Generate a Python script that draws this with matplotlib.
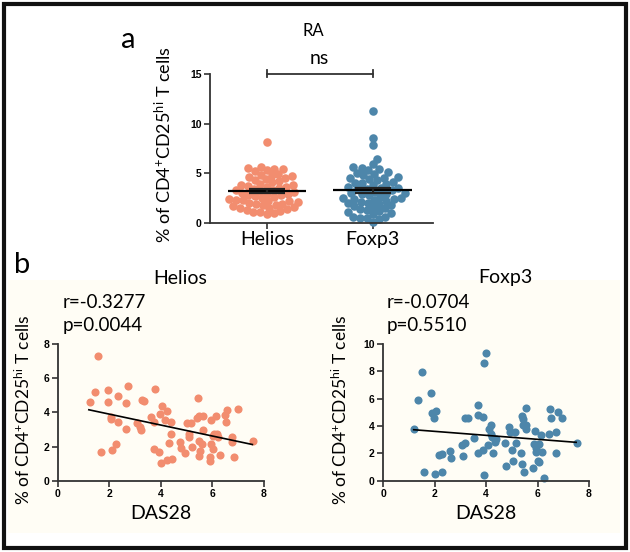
import numpy as np
import matplotlib
matplotlib.use("Agg")
import matplotlib.pyplot as plt
from matplotlib.patches import Rectangle

# ------------------------------------------------------------------ #
# Data
# ------------------------------------------------------------------ #
GROUPS = ["Helios", "Foxp3"]

helios_ra = [
    8.2,
    5.5, 5.4, 5.6, 5.3, 5.45, 5.2,
    4.9, 4.8, 4.7, 4.6, 4.85,
    4.4, 4.3, 4.2, 4.1, 4.5,
    3.9, 3.8, 3.7, 3.6, 3.85, 3.65,
    3.4, 3.3, 3.2, 3.1, 3.35, 3.0, 3.5,
    2.9, 2.8, 2.7, 2.6, 2.85, 2.5, 2.95,
    2.4, 2.3, 2.2, 2.1, 2.35, 2.0, 2.25,
    1.9, 1.8, 1.7, 1.6, 1.85, 1.95,
    1.5, 1.4, 1.3, 1.2, 1.55,
    1.1, 1.0, 0.9, 1.15,
]

foxp3_ra = [
    11.3, 8.6, 7.9, 6.4,
    5.9, 5.6, 5.5, 5.4, 5.3,
    5.1, 5.0, 4.9, 4.8,
    4.6, 4.5, 4.4, 4.3, 4.55,
    4.1, 4.0, 3.9, 3.8, 4.05,
    3.6, 3.5, 3.4, 3.3, 3.55, 3.45,
    3.1, 3.0, 2.9, 2.8, 3.05, 2.95,
    2.6, 2.5, 2.4, 2.3, 2.55, 2.2, 2.45,
    2.1, 2.0, 1.9, 1.8, 2.05,
    1.6, 1.5, 1.4, 1.3, 1.2, 1.7,
    1.1, 1.0, 0.9,
    0.6, 0.5, 0.45, 0.65, 0.55,
    0.1,
]

helios_das28 = [1.57, 1.42, 1.26, 1.93, 1.93, 1.66, 2.05, 2.07, 2.11, 2.24,
                2.34, 2.34, 2.64, 2.72, 2.63, 3.08, 3.17, 3.24, 3.26, 3.33,
                3.61, 3.75, 3.73, 3.73, 3.91, 3.99, 3.95, 4.03, 4.23, 4.17,
                4.39, 4.40, 4.31, 4.25, 4.43, 4.74, 4.79, 4.95, 5.00, 5.18,
                5.09, 5.10, 5.22, 5.44, 5.40, 5.46, 5.62, 5.62, 5.46, 5.53,
                5.49, 5.60, 5.94, 6.14, 5.95, 6.03, 5.89, 5.89, 6.07, 6.17,
                6.03, 6.21, 6.30, 6.50, 6.58, 6.54, 6.74, 6.74, 6.85, 6.98,
                7.59]
helios_pct = [7.28, 5.20, 4.58, 5.30, 4.60, 1.70, 3.70, 3.62, 1.80, 2.13,
              4.93, 3.46, 4.52, 5.56, 3.03, 3.39, 3.13, 2.99, 4.70, 4.64,
              3.74, 5.36, 3.42, 1.84, 1.66, 1.02, 3.93, 4.36, 4.09, 3.56,
              3.44, 2.76, 2.21, 1.19, 1.25, 2.25, 1.92, 1.64, 3.39, 3.39,
              2.72, 2.56, 2.00, 4.81, 3.66, 3.78, 3.78, 2.94, 2.31, 1.72,
              1.47, 2.17, 3.54, 3.76, 2.17, 1.88, 1.41, 1.15, 2.76, 2.76,
              2.60, 2.56, 1.51, 3.84, 4.15, 3.46, 2.56, 2.25, 1.39, 4.17,
              2.35]
helios_fit_x = [1.2, 7.55]
helios_fit_y = [4.15, 2.12]

foxp3_das28 = [1.19, 1.37, 1.52, 1.60, 1.88, 1.89, 2.07, 1.98, 2.02, 2.18,
               2.28, 2.28, 2.59, 2.65, 3.06, 3.18, 3.11, 3.20, 3.29, 3.55,
               3.70, 3.68, 3.90, 3.92, 3.98, 3.70, 3.88, 3.93, 4.10, 4.20,
               4.18, 4.25, 4.09, 4.27, 4.35, 4.38, 4.79, 4.72, 4.89, 4.93,
               5.14, 5.02, 5.05, 5.17, 5.34, 5.38, 5.49, 5.38, 5.45, 5.56,
               5.42, 5.55, 5.56, 5.84, 5.90, 5.87, 5.94, 5.93, 6.06, 6.03,
               6.06, 6.16, 6.14, 6.26, 6.46, 6.49, 6.54, 6.71, 6.71, 6.81,
               6.94, 7.55]
foxp3_pct = [3.77, 5.89, 7.95, 0.61, 6.43, 4.94, 5.09, 4.57, 0.51, 1.86,
             1.98, 0.61, 2.20, 1.66, 2.62, 2.79, 1.81, 4.57, 4.57, 3.11,
             5.50, 4.84, 4.69, 8.61, 9.32, 2.03, 2.25, 0.42, 3.77, 4.11,
             3.40, 3.18, 2.64, 2.05, 2.84, 3.03, 1.08, 2.74, 3.91, 3.59,
             3.57, 2.27, 1.47, 2.79, 2.05, 1.20, 0.61, 4.74, 4.52, 5.31,
             4.08, 4.08, 3.79, 0.95, 3.64, 2.69, 2.37, 2.08, 2.66, 1.47,
             1.37, 2.08, 3.35, 0.17, 3.45, 5.23, 4.57, 3.57, 2.03, 5.01,
             4.62, 2.74]
foxp3_fit_x = [1.19, 7.5]
foxp3_fit_y = [3.73, 2.81]

HELIOS_C = "#f28d6f"
FOXP3_C = "#4d86aa"
SPINE_C = "#333333"

plt.rcParams["font.family"] = ["Lato", "DejaVu Sans"]
plt.rcParams["mathtext.default"] = "regular"

YLABEL = r"% of CD4$^{+}$CD25$^{hi}$ T cells"

W_PX, H_PX = 630, 552
TOP_RECT = [0.333, 0.596, 0.354, 0.270]
TOP_XLIM = (-0.54, 1.57)
TOP_YLIM = (0, 15)


def swarm_offsets(values, min_dist):
    """Beeswarm offsets (same idea as seaborn), with a collision distance
    a bit smaller than the dot so neighbours may overlap slightly."""
    x_scale = W_PX * TOP_RECT[2] / (TOP_XLIM[1] - TOP_XLIM[0])
    y_scale = H_PX * TOP_RECT[3] / (TOP_YLIM[1] - TOP_YLIM[0])
    ys = np.asarray(values, dtype=float) * y_scale
    offs = np.zeros(len(ys))
    placed = []
    for i in np.argsort(ys, kind="stable"):
        near = [(px, py) for px, py in placed if abs(py - ys[i]) < min_dist]
        cands = [0.0]
        for px, py in near:
            dx = np.sqrt(min_dist ** 2 - (ys[i] - py) ** 2)
            cands += [px + dx, px - dx]
        cands.sort(key=abs)
        for c in cands:
            if all((c - px) ** 2 + (ys[i] - py) ** 2 >= min_dist ** 2 - 1e-6
                   for px, py in near):
                offs[i] = c
                placed.append((c, ys[i]))
                break
    return offs / x_scale


def style_axes(ax):
    for side in ("top", "right"):
        ax.spines[side].set_visible(False)
    for side in ("left", "bottom"):
        ax.spines[side].set_color(SPINE_C)
        ax.spines[side].set_linewidth(1.3)
    ax.tick_params(length=4, width=1.2, color=SPINE_C, pad=2)
    for lab in ax.get_xticklabels() + ax.get_yticklabels():
        lab.set_fontfamily(["Liberation Sans", "DejaVu Sans"])
        lab.set_fontweight("bold")
        lab.set_fontsize(7.5)


fig = plt.figure(figsize=(6.3, 5.52), dpi=100)

# cream background behind panel b, and outer frame
fig.patches.append(Rectangle((8 / 630, 19 / 552), 612 / 630, 253 / 552,
                             transform=fig.transFigure, facecolor="#fffdf5",
                             edgecolor="none", zorder=-5))
fig.patches.append(Rectangle((3.5 / 630, 4.5 / 552), 622 / 630, 544 / 552,
                             transform=fig.transFigure, facecolor="none",
                             edgecolor="#111111", linewidth=3, zorder=10))

# ------------------------------------------------------------------ #
# (a) RA column scatter
# ------------------------------------------------------------------ #
ax = fig.add_axes(TOP_RECT)
for i, (vals, color) in enumerate([(helios_ra, HELIOS_C),
                                   (foxp3_ra, FOXP3_C)]):
    v = np.asarray(vals)
    ax.scatter(i + swarm_offsets(v, min_dist=6.9), v, s=38, color=color,
               linewidths=0, zorder=2, clip_on=False)
    mean = v.mean()
    sem = v.std(ddof=1) / np.sqrt(len(v))
    ax.hlines(mean, i - 0.37, i + 0.37, color="black", lw=1.6, zorder=4)
    ax.errorbar(i, mean, yerr=sem, color="#222222", capsize=13,
                capthick=1.6, elinewidth=1.6, zorder=5)
ax.set_xlim(*TOP_XLIM)
ax.set_ylim(*TOP_YLIM)

# significance bracket
ax.plot([0, 1], [15, 15], color=SPINE_C, lw=1.3, clip_on=False)
ax.plot([0, 0], [14.65, 15.35], color=SPINE_C, lw=1.3, clip_on=False)
ax.plot([1, 1], [14.65, 15.35], color=SPINE_C, lw=1.3, clip_on=False)
ax.text(0.5, 15.7, "ns", ha="center", va="bottom", fontsize=14)

ax.set_yticks([0, 5, 10, 15])
ax.set_xticks([0, 1])
ax.set_xticklabels(GROUPS)
ax.set_ylabel(YLABEL, fontsize=13)
ax.yaxis.set_label_coords(-0.16, 0.53)
style_axes(ax)
for lab in ax.get_xticklabels():
    lab.set_fontfamily(["Lato", "DejaVu Sans"])
    lab.set_fontweight("normal")
    lab.set_fontsize(14)

fig.text(313 / 630, 1 - 31 / 552, "RA", ha="center", va="center", fontsize=12)
fig.text(128 / 630, 1 - 40 / 552, "a", ha="center", va="center", fontsize=21)
fig.text(22 / 630, 1 - 265 / 552, "b", ha="center", va="center", fontsize=21)

# ------------------------------------------------------------------ #
# (b) correlation with DAS28
# ------------------------------------------------------------------ #
panels = [
    (0.092, helios_das28, helios_pct, helios_fit_x, helios_fit_y, HELIOS_C,
     8, [0, 2, 4, 6, 8], "Helios", 180, 63, "r=-0.3277", "p=0.0044", -0.12),
    (0.608, foxp3_das28, foxp3_pct, foxp3_fit_x, foxp3_fit_y, FOXP3_C,
     10, [0, 2, 4, 6, 8, 10], "Foxp3", 505, 387, "r=-0.0704", "p=0.5510", -0.16),
]
for (left, xs, ys, fx, fy, color, ymax, yt, title, tx, rx,
     rtxt, ptxt, ylab_x) in panels:
    ax = fig.add_axes([left, 0.129, 0.327, 0.248])
    ax.set_facecolor("none")
    ax.scatter(xs, ys, s=34, color=color, linewidths=0, zorder=2,
               clip_on=False)
    ax.plot(fx, fy, color="black", lw=1.2, zorder=3)
    ax.set_xlim(0, 8)
    ax.set_ylim(0, ymax)
    ax.set_xticks([0, 2, 4, 6, 8])
    ax.set_yticks(yt)
    ax.set_xlabel("DAS28", fontsize=14, labelpad=4)
    ax.set_ylabel(YLABEL, fontsize=12.5)
    ax.yaxis.set_label_coords(ylab_x, 0.52)
    style_axes(ax)
    fig.text(tx / 630, 1 - 278 / 552, title, ha="center", va="center",
             fontsize=14)
    fig.text(rx / 630, 1 - 302 / 552, rtxt, ha="left", va="center",
             fontsize=13.5)
    fig.text(rx / 630, 1 - 325 / 552, ptxt, ha="left", va="center",
             fontsize=13.5)

fig.savefig("out.png", dpi=100)
